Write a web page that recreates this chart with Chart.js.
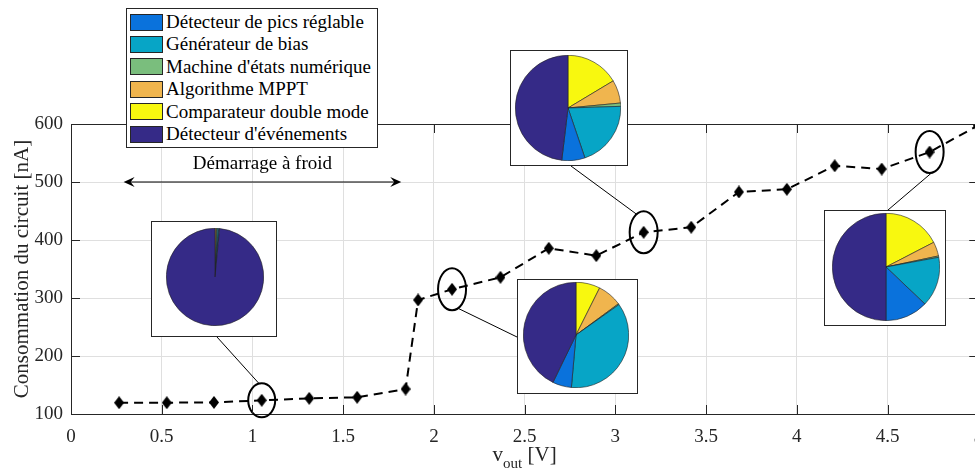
<!DOCTYPE html>
<html>
<head>
<meta charset="utf-8">
<script src="https://cdn.jsdelivr.net/npm/chart.js@4.4.0/dist/chart.umd.min.js"></script>
<style>
    html, body { margin: 0; padding: 0; background: #fff; overflow: hidden; }
    #wrap { position: relative; width: 975px; height: 472px; overflow: hidden; }
    #main { position: absolute; left: 0; top: 0; }
    .inset { position: absolute; background: #fff; border: 1.5px solid #262626; box-sizing: border-box; }
    .inset canvas { position: absolute; }
    #legend { position: absolute; left: 126px; top: 8px; width: 252px; height: 140px; background: #fff;
              border: 1px solid #262626; box-sizing: border-box; font-family: "Liberation Serif", serif; font-size: 19px; }
    #legend .sw { position: absolute; left: 3px; width: 33px; height: 17px; border: 1px solid #262626; box-sizing: border-box; }
    #legend .tx { position: absolute; left: 39px; height: 22px; line-height: 22px; white-space: nowrap; color: #000; }
</style>
</head>
<body>
<div id="wrap">
    <canvas id="main" width="995" height="472"></canvas>
    <div id="legend"></div>
</div>
<script>
// measured points: output voltage [V] / circuit consumption [nA]
const vout = [0.265, 0.528, 0.788, 1.051, 1.313, 1.577, 1.844, 1.913, 2.100, 2.367,
              2.633, 2.895, 3.156, 3.418, 3.681, 3.945, 4.209, 4.468, 4.732, 4.996];
const consumption = [119.5, 119.5, 120, 123.6, 127, 128.8, 143, 296.6, 315, 335.7,
                     385.7, 373, 413.3, 422, 482.8, 487.4, 528, 522.4, 551.7, 597];

const xTicks = [0, 0.5, 1, 1.5, 2, 2.5, 3, 3.5, 4, 4.5, 5];
const yTicks = [100, 200, 300, 400, 500, 600];

// blocks of the circuit (legend order)
const components = ['Détecteur de pics réglable', 'Générateur de bias', "Machine d'états numérique",
                    'Algorithme MPPT', 'Comparateur double mode', "Détecteur d'événements"];
const componentColors = ['#0a72dc', '#07a5c6', '#7abe7d', '#f0b54e', '#f8f80f', '#352a87'];

// share of each block [%] at the circled points (legend order)
const pieAt = [3, 8, 12, 18];
const pieShares1 = [0.3, 0.4, 0.3, 0.4, 0.1, 98.5];
const pieShares2 = [5.8, 36.2, 0.3, 7.5, 7.4, 42.8];
const pieShares3 = [7.1, 20.3, 1.0, 7.1, 16.4, 48.1];
const pieShares4 = [12.9, 15.0, 0.4, 4.3, 17.4, 50.0];
const pieShares = [pieShares1, pieShares2, pieShares3, pieShares4];

// cold start annotation
const coldStartLabel = 'Démarrage à froid';
const coldStartRange = [0.29, 1.82];
const coldStartLevel = 500;

// clockwise from 12 o'clock, like the MATLAB pies read counter-clockwise
const drawOrder = [4, 3, 2, 1, 0, 5];

// inset boxes (pixels) + connector geometry
const insets = [
    { left: 151, top: 221, width: 126, height: 116, cx: 64, cy: 56, r: 48, anchor: [217, 337], end: [-2, -16], rx: 13.5, ry: 17 },
    { left: 517, top: 279, width: 121, height: 115, cx: 59, cy: 56, r: 52, anchor: [517, 337], end: [6, 19], rx: 14, ry: 21 },
    { left: 510, top: 50, width: 118, height: 116, cx: 58, cy: 58, r: 52, anchor: [571, 166], end: [-7, -18], rx: 14, ry: 21 },
    { left: 824, top: 210, width: 122, height: 116, cx: 62, cy: 57, r: 53, anchor: [888, 210], end: [3, 20], rx: 14, ry: 21 }
];

const SERIF = '"Liberation Serif", "Times New Roman", serif';
const AXIS = '#262626';

// diamond marker
function diamond(w, h) {
    const c = document.createElement('canvas');
    c.width = w; c.height = h;
    const g = c.getContext('2d');
    g.fillStyle = '#000';
    g.beginPath();
    g.moveTo(w / 2, 0); g.lineTo(w, h / 2); g.lineTo(w / 2, h); g.lineTo(0, h / 2);
    g.closePath(); g.fill();
    return c;
}

const overlay = {
    id: 'overlay',
    afterDatasetsDraw(chart) {
        const ctx = chart.ctx, xs = chart.scales.x, ys = chart.scales.y;
        ctx.save();
        // ellipses + connectors
        insets.forEach(function(box, k) {
            const i = pieAt[k];
            const px = xs.getPixelForValue(vout[i]), py = ys.getPixelForValue(consumption[i]);
            ctx.strokeStyle = '#000';
            ctx.lineWidth = 2;
            ctx.beginPath();
            ctx.ellipse(px, py, box.rx, box.ry, 0, 0, Math.PI * 2);
            ctx.stroke();
            ctx.lineWidth = 1;
            ctx.beginPath();
            ctx.moveTo(px + box.end[0], py + box.end[1]);
            ctx.lineTo(box.anchor[0], box.anchor[1]);
            ctx.stroke();
        });
        // cold start arrow
        const ay = ys.getPixelForValue(coldStartLevel);
        const a0 = xs.getPixelForValue(coldStartRange[0]), a1 = xs.getPixelForValue(coldStartRange[1]);
        ctx.lineWidth = 1.2;
        ctx.beginPath(); ctx.moveTo(a0 + 4, ay); ctx.lineTo(a1 - 4, ay); ctx.stroke();
        ctx.fillStyle = '#000';
        [[a0, 1], [a1, -1]].forEach(function(p) {
            const tip = p[0], d = p[1];
            ctx.beginPath();
            ctx.moveTo(tip, ay);
            ctx.lineTo(tip + d * 11, ay - 5);
            ctx.lineTo(tip + d * 7, ay);
            ctx.lineTo(tip + d * 11, ay + 5);
            ctx.closePath();
            ctx.fill();
        });
        ctx.font = '19px ' + SERIF;
        ctx.textAlign = 'center';
        ctx.textBaseline = 'middle';
        ctx.fillStyle = '#000';
        ctx.fillText(coldStartLabel, (a0 + a1) / 2, ys.getPixelForValue(531));
        ctx.restore();
    },
    afterDraw(chart) {
        const ctx = chart.ctx, a = chart.chartArea, xs = chart.scales.x, ys = chart.scales.y;
        ctx.save();
        ctx.strokeStyle = AXIS;
        ctx.lineWidth = 1;
        // box outline (top + right)
        ctx.beginPath();
        ctx.moveTo(a.left, a.top + 0.5); ctx.lineTo(a.right, a.top + 0.5);
        ctx.moveTo(a.right - 0.5, a.top); ctx.lineTo(a.right - 0.5, a.bottom);
        ctx.stroke();
        // inward ticks
        const tl = 9;
        ctx.beginPath();
        xTicks.forEach(function(v) {
            const x = Math.round(xs.getPixelForValue(v)) + 0.5;
            ctx.moveTo(x, a.bottom); ctx.lineTo(x, a.bottom - tl);
            ctx.moveTo(x, a.top); ctx.lineTo(x, a.top + tl);
        });
        yTicks.forEach(function(v) {
            const y = Math.round(ys.getPixelForValue(v)) + 0.5;
            ctx.moveTo(a.left, y); ctx.lineTo(a.left + tl, y);
            ctx.moveTo(a.right, y); ctx.lineTo(a.right - tl, y);
        });
        ctx.stroke();
        // y title
        ctx.fillStyle = AXIS;
        ctx.font = '21px ' + SERIF;
        ctx.textAlign = 'center';
        ctx.textBaseline = 'middle';
        ctx.translate(22, (a.top + a.bottom) / 2);
        ctx.rotate(-Math.PI / 2);
        ctx.fillText('Consommation du circuit [nA]', 0, 0);
        ctx.setTransform(1, 0, 0, 1, 0, 0);
        // x title with subscript
        ctx.textAlign = 'left';
        ctx.textBaseline = 'alphabetic';
        const big = '21px ' + SERIF, small = '15px ' + SERIF;
        ctx.font = big;
        const wv = ctx.measureText('v').width, wu = ctx.measureText(' [V]').width;
        ctx.font = small;
        const wo = ctx.measureText('out').width;
        let x = (a.left + a.right) / 2 - (wv + wo + wu) / 2;
        ctx.font = big; ctx.fillText('v', x, 461); x += wv;
        ctx.font = small; ctx.fillText('out', x, 468); x += wo;
        ctx.font = big; ctx.fillText(' [V]', x, 461);
        ctx.restore();
    }
};

new Chart(document.getElementById('main'), {
    type: 'line',
    data: {
        datasets: [{
            data: vout.map((v, i) => ({ x: v, y: consumption[i] })),
            borderColor: '#000',
            borderWidth: 2,
            borderDash: [9, 6],
            pointStyle: diamond(10, 13),
            pointRadius: 6,
            fill: false,
            tension: 0
        }]
    },
    options: {
        responsive: false,
        animation: false,
        events: [],
        layout: { padding: { top: 124, right: 16, left: 0, bottom: 0 } },
        plugins: { legend: { display: false }, tooltip: { enabled: false } },
        scales: {
            x: {
                type: 'linear', min: 0, max: 5,
                afterBuildTicks: s => { s.ticks = xTicks.map(v => ({ value: v })); },
                afterFit: s => { s.height = 58; },
                grid: { color: '#dfdfdf', drawTicks: false },
                border: { color: AXIS, width: 1 },
                ticks: { padding: 12, maxRotation: 0, autoSkip: false, color: AXIS,
                         font: { family: SERIF, size: 19 }, callback: v => String(v) }
            },
            y: {
                type: 'linear', min: 100, max: 600,
                afterBuildTicks: s => { s.ticks = yTicks.map(v => ({ value: v })); },
                afterFit: s => { s.width = 71; },
                grid: { color: '#dfdfdf', drawTicks: false },
                border: { color: AXIS, width: 1 },
                ticks: { padding: 8, color: AXIS, font: { family: SERIF, size: 19 }, callback: v => String(v) }
            }
        }
    },
    plugins: [overlay]
});

// pie insets
const wrap = document.getElementById('wrap');
insets.forEach(function(box, k) {
    const div = document.createElement('div');
    div.className = 'inset';
    div.style.left = box.left + 'px'; div.style.top = box.top + 'px';
    div.style.width = box.width + 'px'; div.style.height = box.height + 'px';
    const cv = document.createElement('canvas');
    const size = 2 * box.r + 2;
    cv.width = size; cv.height = size;
    cv.style.left = (box.cx - box.r - 1 - 1.5) + 'px';
    cv.style.top = (box.cy - box.r - 1 - 1.5) + 'px';
    div.appendChild(cv);
    wrap.appendChild(div);
    const shares = pieShares[k];
    new Chart(cv, {
        type: 'pie',
        data: {
            labels: drawOrder.map(i => components[i]),
            datasets: [{
                data: drawOrder.map(i => shares[i]),
                backgroundColor: drawOrder.map(i => componentColors[i]),
                borderColor: '#222',
                borderWidth: 0.6
            }]
        },
        options: {
            responsive: false,
            animation: false,
            events: [],
            layout: { padding: 0 },
            plugins: { legend: { display: false }, tooltip: { enabled: false } }
        }
    });
});

// legend
const legend = document.getElementById('legend');
components.forEach(function(name, i) {
    const c = 13 + i * 22.46;
    const sw = document.createElement('div');
    sw.className = 'sw';
    sw.style.top = (c - 8.5) + 'px';
    sw.style.background = componentColors[i];
    const tx = document.createElement('div');
    tx.className = 'tx';
    tx.style.top = (c - 11) + 'px';
    tx.textContent = name;
    legend.appendChild(sw);
    legend.appendChild(tx);
});
legend.parentNode.appendChild(legend); // keep legend above insets
</script>
</body>
</html>
